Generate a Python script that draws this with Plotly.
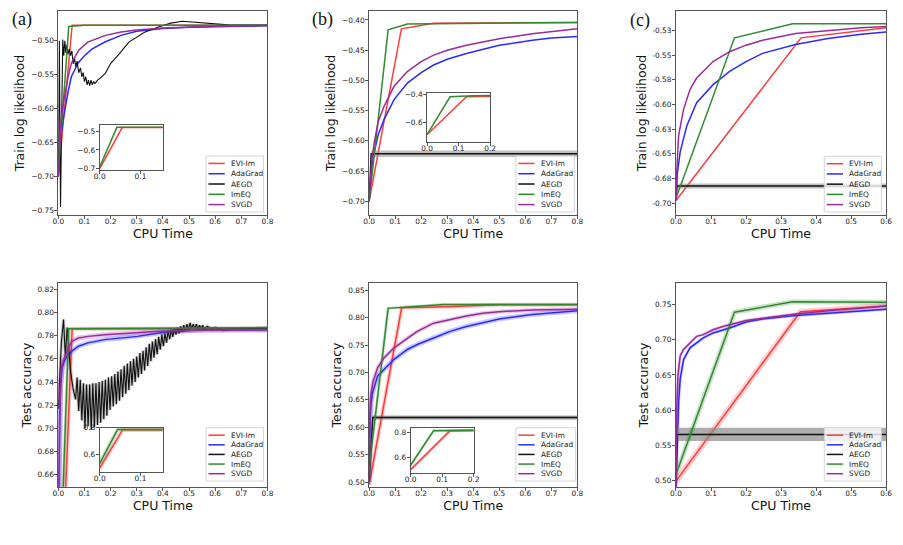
import plotly.graph_objects as go

W, H = 903, 545

names = ["EVI-Im", "AdaGrad", "AEGD", "ImEQ", "SVGD"]
colors = ["#ff3b3b", "#2a2aff", "#111111", "#2e8b2e", "#9a2a9a"]

# ---------------- (a) train log likelihood ----------------
ta_evi_x = [0.0, 0.053, 0.8]
ta_evi_y = [-0.700, -0.477, -0.477]
ta_ada_x = [0, 0.005, 0.01, 0.018, 0.026, 0.038, 0.05, 0.075, 0.1, 0.13, 0.18, 0.24, 0.3, 0.4, 0.5, 0.6, 0.8]
ta_ada_y = [-0.700, -0.665, -0.640, -0.618, -0.600, -0.574, -0.553, -0.533, -0.522, -0.512, -0.5015, -0.492, -0.486, -0.482, -0.480, -0.479, -0.478]
ta_aegd_x = [0, 0.004, 0.0085, 0.013, 0.017, 0.021, 0.025, 0.029, 0.033, 0.037, 0.042, 0.047, 0.052, 0.057, 0.062,
             0.067, 0.072, 0.078, 0.085, 0.09, 0.095, 0.1, 0.105, 0.11, 0.115, 0.12, 0.125, 0.13, 0.135, 0.14,
             0.15, 0.16, 0.18, 0.2, 0.234, 0.27, 0.33, 0.38, 0.43, 0.475, 0.52, 0.58, 0.65, 0.8]
ta_aegd_y = [-0.690, -0.500, -0.745, -0.560, -0.498, -0.522, -0.500, -0.518, -0.506, -0.520, -0.512, -0.522, -0.515,
             -0.534, -0.526, -0.538, -0.530, -0.547, -0.540, -0.553, -0.547, -0.560, -0.553, -0.565, -0.558, -0.566,
             -0.558, -0.565, -0.560, -0.563, -0.558, -0.555, -0.548, -0.5335, -0.519, -0.502, -0.4874, -0.480,
             -0.474, -0.4713, -0.4725, -0.475, -0.4765, -0.477]
ta_imeq_x = [0, 0.04, 0.1, 0.8]
ta_imeq_y = [-0.695, -0.479, -0.477, -0.477]
ta_svgd_x = [0, 0.005, 0.01, 0.018, 0.026, 0.038, 0.05, 0.078, 0.113, 0.18, 0.24, 0.3, 0.4, 0.5, 0.6, 0.8]
ta_svgd_y = [-0.700, -0.650, -0.620, -0.595, -0.577, -0.552, -0.533, -0.514, -0.502, -0.492, -0.487, -0.484, -0.481, -0.4795, -0.4785, -0.4775]
ta_in_evi_x = [0, 0.055, 0.155]
ta_in_evi_y = [-0.700, -0.479, -0.479]
ta_in_imeq_x = [0, 0.042, 0.155]
ta_in_imeq_y = [-0.692, -0.478, -0.478]

# ---------------- (b) train log likelihood ----------------
tb_evi_x = [0, 0.124, 0.248, 0.8]
tb_evi_y = [-0.700, -0.4147, -0.4054, -0.4040]
tb_ada_x = [0, 0.004, 0.01, 0.02, 0.035, 0.058, 0.096, 0.147, 0.2, 0.248, 0.3, 0.374, 0.45, 0.5, 0.627, 0.7, 0.8]
tb_ada_y = [-0.700, -0.672, -0.645, -0.618, -0.590, -0.564, -0.5316, -0.5043, -0.487, -0.4745, -0.465, -0.4554, -0.447, -0.4419, -0.4337, -0.430, -0.4272]
tb_aegd_x = [0, 0.008, 0.8]
tb_aegd_y = [-0.700, -0.6212, -0.6212]
tb_aegd_lo = [-0.700, -0.6267, -0.6267]
tb_aegd_hi = [-0.700, -0.6157, -0.6157]
tb_imeq_x = [0, 0.073, 0.147, 0.8]
tb_imeq_y = [-0.700, -0.4163, -0.4065, -0.4040]
tb_svgd_x = [0, 0.004, 0.01, 0.02, 0.035, 0.058, 0.096, 0.147, 0.2, 0.248, 0.3, 0.374, 0.45, 0.5, 0.627, 0.7, 0.8]
tb_svgd_y = [-0.700, -0.665, -0.632, -0.602, -0.568, -0.5423, -0.5097, -0.4853, -0.469, -0.4582, -0.450, -0.4419, -0.435, -0.431, -0.4228, -0.419, -0.4147]
tb_in_evi_x = [0, 0.125, 0.2]
tb_in_evi_y = [-0.690, -0.414, -0.412]
tb_in_imeq_x = [0, 0.073, 0.145, 0.2]
tb_in_imeq_y = [-0.690, -0.414, -0.406, -0.405]

# ---------------- (c) train log likelihood ----------------
tc_evi_x = [0, 0.357, 0.6]
tc_evi_y = [-0.6973, -0.5326, -0.5223]
tc_ada_x = [0, 0.004, 0.012, 0.031, 0.059, 0.106, 0.153, 0.2, 0.247, 0.341, 0.434, 0.529, 0.6]
tc_ada_y = [-0.697, -0.670, -0.648, -0.6216, -0.5983, -0.580, -0.5666, -0.5566, -0.5483, -0.5393, -0.5333, -0.529, -0.5267]
tc_aegd_x = [0, 0.003, 0.6]
tc_aegd_y = [-0.695, -0.6826, -0.6826]
tc_aegd_lo = [-0.695, -0.6851, -0.6851]
tc_aegd_hi = [-0.695, -0.6801, -0.6801]
tc_imeq_x = [0, 0.167, 0.333, 0.6]
tc_imeq_y = [-0.695, -0.5326, -0.5183, -0.5183]
tc_svgd_x = [0, 0.002, 0.0075, 0.0217, 0.040, 0.059, 0.106, 0.153, 0.2, 0.247, 0.341, 0.434, 0.529, 0.6]
tc_svgd_y = [-0.697, -0.670, -0.6316, -0.605, -0.585, -0.5733, -0.5566, -0.5466, -0.540, -0.535, -0.5283, -0.525, -0.5223, -0.521]
tc_yticks = [-0.7, -0.675, -0.65, -0.625, -0.6, -0.575, -0.55, -0.525]
tc_yticktext = ["-0.70", "-0.68", "-0.65", "-0.63", "-0.60", "-0.58", "-0.55", "-0.53"]

# ---------------- (a) test accuracy ----------------
ba_evi_x = [0, 0.053, 0.8]
ba_evi_y = [0.495, 0.786, 0.786]
ba_ada_x = [0, 0.002, 0.005, 0.009, 0.014, 0.02, 0.026, 0.039, 0.052, 0.077, 0.114, 0.177, 0.24, 0.303, 0.366, 0.429, 0.5, 0.555, 0.65, 0.8]
ba_ada_y = [0.60, 0.66, 0.705, 0.735, 0.751, 0.756, 0.7596, 0.764, 0.7667, 0.7709, 0.7738, 0.7766, 0.778, 0.7794, 0.7817, 0.7837, 0.7845, 0.7851, 0.7851, 0.7851]
ba_aegd_pts = [
    (0.000, 0.717), (0.006, 0.745), (0.012, 0.775), (0.020, 0.794), (0.027, 0.762), (0.034, 0.787),
    (0.046, 0.751), (0.056, 0.735), (0.066, 0.725), (0.072, 0.744), (0.078, 0.715), (0.084, 0.742),
    (0.090, 0.707), (0.096, 0.739), (0.102, 0.700), (0.108, 0.738), (0.114, 0.702), (0.120, 0.738),
    (0.126, 0.699), (0.132, 0.739), (0.138, 0.701), (0.144, 0.739), (0.150, 0.703), (0.156, 0.740),
    (0.162, 0.705), (0.168, 0.741), (0.174, 0.708), (0.180, 0.742), (0.186, 0.711), (0.192, 0.744),
    (0.198, 0.716), (0.204, 0.745), (0.210, 0.719), (0.216, 0.747), (0.222, 0.721), (0.228, 0.749),
    (0.234, 0.724), (0.240, 0.751), (0.246, 0.727), (0.252, 0.754), (0.258, 0.730), (0.264, 0.756),
    (0.270, 0.733), (0.276, 0.758), (0.282, 0.737), (0.288, 0.760), (0.294, 0.740), (0.300, 0.762),
    (0.306, 0.744), (0.312, 0.765), (0.318, 0.747), (0.324, 0.767), (0.330, 0.750), (0.336, 0.770),
    (0.342, 0.754), (0.348, 0.773), (0.354, 0.758), (0.360, 0.775), (0.366, 0.761), (0.372, 0.777),
    (0.378, 0.764), (0.384, 0.779), (0.390, 0.768), (0.396, 0.781), (0.402, 0.771), (0.408, 0.782),
    (0.414, 0.774), (0.420, 0.784), (0.426, 0.777), (0.432, 0.785), (0.438, 0.779), (0.444, 0.786),
    (0.450, 0.781), (0.456, 0.787), (0.462, 0.782), (0.468, 0.788), (0.474, 0.783), (0.480, 0.789),
    (0.486, 0.784), (0.492, 0.790), (0.498, 0.785), (0.504, 0.791), (0.510, 0.786), (0.516, 0.790),
    (0.522, 0.786), (0.528, 0.790), (0.534, 0.786), (0.540, 0.789), (0.546, 0.786), (0.552, 0.789),
    (0.558, 0.786), (0.570, 0.788), (0.585, 0.786), (0.600, 0.787), (0.630, 0.785), (0.660, 0.786),
    (0.700, 0.786), (0.800, 0.7865)]
ba_imeq_x = [0, 0.04, 0.8]
ba_imeq_y = [0.53, 0.786, 0.787]
ba_svgd_x = [0, 0.002, 0.005, 0.009, 0.014, 0.02, 0.026, 0.039, 0.052, 0.077, 0.114, 0.177, 0.24, 0.303, 0.366, 0.43, 0.5, 0.6, 0.8]
ba_svgd_y = [0.60, 0.67, 0.71, 0.74, 0.7539, 0.759, 0.7624, 0.7695, 0.7752, 0.778, 0.7794, 0.7809, 0.7817, 0.7828, 0.7837, 0.784, 0.7845, 0.785, 0.7851]
ba_in_evi_x = [0, 0.0565, 0.155]
ba_in_evi_y = [0.495, 0.786, 0.786]
ba_in_imeq_x = [0, 0.044, 0.155]
ba_in_imeq_y = [0.53, 0.787, 0.787]

# ---------------- (b) test accuracy ----------------
bb_evi_x = [0, 0.125, 0.3, 0.5, 0.8]
bb_evi_y = [0.495, 0.818, 0.820, 0.8235, 0.8235]
bb_ada_x = [0, 0.004, 0.008, 0.014, 0.033, 0.058, 0.096, 0.147, 0.185, 0.248, 0.311, 0.374, 0.437, 0.5, 0.627, 0.8]
bb_ada_y = [0.50, 0.62, 0.645, 0.664, 0.6938, 0.706, 0.724, 0.742, 0.751, 0.763, 0.775, 0.784, 0.791, 0.7977, 0.806, 0.8127]
bb_aegd_x = [0, 0.014, 0.8]
bb_aegd_y = [0.50, 0.6176, 0.6176]
bb_aegd_lo = [0.50, 0.6136, 0.6136]
bb_aegd_hi = [0.50, 0.6216, 0.6216]
bb_imeq_x = [0, 0.073, 0.286, 0.8]
bb_imeq_y = [0.525, 0.817, 0.824, 0.824]
bb_svgd_x = [0, 0.003, 0.007, 0.014, 0.033, 0.058, 0.096, 0.147, 0.185, 0.248, 0.311, 0.374, 0.437, 0.5, 0.627, 0.8]
bb_svgd_y = [0.50, 0.63, 0.66, 0.682, 0.709, 0.727, 0.745, 0.763, 0.775, 0.790, 0.797, 0.803, 0.808, 0.811, 0.814, 0.8153]
bb_in_evi_x = [0, 0.125, 0.2]
bb_in_evi_y = [0.50, 0.816, 0.818]
bb_in_imeq_x = [0, 0.073, 0.2]
bb_in_imeq_y = [0.535, 0.816, 0.820]

# ---------------- (c) test accuracy ----------------
bc_evi_x = [0, 0.355, 0.6]
bc_evi_y = [0.4986, 0.740, 0.7483]
bc_ada_x = [0, 0.004, 0.0075, 0.012, 0.0217, 0.040, 0.059, 0.078, 0.106, 0.153, 0.2, 0.247, 0.341, 0.435, 0.529, 0.6]
bc_ada_y = [0.49, 0.56, 0.611, 0.644, 0.672, 0.6887, 0.6958, 0.7028, 0.7099, 0.7169, 0.7254, 0.7296, 0.7347, 0.738, 0.7408, 0.7437]
bc_aegd_x = [0, 0.003, 0.6]
bc_aegd_y = [0.50, 0.5652, 0.5652]
bc_aegd_lo = [0.50, 0.5558, 0.5558]
bc_aegd_hi = [0.50, 0.5746, 0.5746]
bc_imeq_x = [0, 0.167, 0.333, 0.6]
bc_imeq_y = [0.508, 0.7394, 0.7544, 0.7535]
bc_svgd_x = [0, 0.002, 0.0056, 0.012, 0.0217, 0.040, 0.059, 0.078, 0.106, 0.134, 0.2, 0.247, 0.341, 0.435, 0.529, 0.6]
bc_svgd_y = [0.49, 0.60, 0.6487, 0.677, 0.6863, 0.6958, 0.7051, 0.7075, 0.7145, 0.7192, 0.7276, 0.731, 0.737, 0.7417, 0.7459, 0.7483]

# ======================================================================
fig = go.Figure()
FONT = "DejaVu Sans"
LW = 1.5


def fx(p):
    return p / W


def fy(p):
    return 1 - p / H


def line(x, y, ax, ci, width=LW, opacity=1.0, under=None):
    xa, ya = ax
    if under is not None:
        fig.add_trace(go.Scatter(x=x, y=y, mode="lines", xaxis=xa, yaxis=ya, showlegend=False,
                                 hoverinfo="skip", opacity=0.25,
                                 line=dict(color=colors[ci], width=under)))
    fig.add_trace(go.Scatter(x=x, y=y, mode="lines", xaxis=xa, yaxis=ya, showlegend=False,
                             hoverinfo="skip", opacity=opacity,
                             line=dict(color=colors[ci], width=width)))


def band(x, lo, hi, ax, color):
    xa, ya = ax
    fig.add_trace(go.Scatter(x=list(x) + list(x)[::-1], y=list(hi) + list(lo)[::-1], mode="lines",
                             fill="toself", fillcolor=color, line=dict(width=0), xaxis=xa, yaxis=ya,
                             showlegend=False, hoverinfo="skip"))


A1 = ("x", "y"); A2 = ("x2", "y2"); A3 = ("x3", "y3")
A4 = ("x4", "y4"); A5 = ("x5", "y5"); A6 = ("x6", "y6")
I7 = ("x7", "y7"); I8 = ("x8", "y8"); I9 = ("x9", "y9"); I10 = ("x10", "y10")

# (a) train
line(ta_evi_x, ta_evi_y, A1, 0)
line(ta_ada_x, ta_ada_y, A1, 1)
line(ta_aegd_x, ta_aegd_y, A1, 2, width=1.1)
line(ta_imeq_x, ta_imeq_y, A1, 3)
line(ta_svgd_x, ta_svgd_y, A1, 4)
# (b) train
line(tb_evi_x, tb_evi_y, A2, 0)
line(tb_ada_x, tb_ada_y, A2, 1)
band(tb_aegd_x, tb_aegd_lo, tb_aegd_hi, A2, "rgba(150,150,150,0.6)")
line(tb_aegd_x, tb_aegd_y, A2, 2)
line(tb_imeq_x, tb_imeq_y, A2, 3)
line(tb_svgd_x, tb_svgd_y, A2, 4)
# (c) train
line(tc_evi_x, tc_evi_y, A3, 0)
line(tc_ada_x, tc_ada_y, A3, 1)
band(tc_aegd_x, tc_aegd_lo, tc_aegd_hi, A3, "rgba(150,150,150,0.6)")
line(tc_aegd_x, tc_aegd_y, A3, 2)
line(tc_imeq_x, tc_imeq_y, A3, 3)
line(tc_svgd_x, tc_svgd_y, A3, 4)
# (a) test
ba_aegd_x = [p[0] for p in ba_aegd_pts]
ba_aegd_y = [p[1] for p in ba_aegd_pts]
line(ba_evi_x, ba_evi_y, A4, 0, under=4)
line(ba_ada_x, ba_ada_y, A4, 1, under=5)
line(ba_aegd_x, ba_aegd_y, A4, 2, width=1.1, under=3)
line(ba_imeq_x, ba_imeq_y, A4, 3, under=3)
line(ba_svgd_x, ba_svgd_y, A4, 4, under=5)
# (b) test
line(bb_evi_x, bb_evi_y, A5, 0, under=4)
line(bb_ada_x, bb_ada_y, A5, 1, under=5)
band(bb_aegd_x, bb_aegd_lo, bb_aegd_hi, A5, "rgba(130,130,130,0.65)")
line(bb_aegd_x, bb_aegd_y, A5, 2)
line(bb_imeq_x, bb_imeq_y, A5, 3, under=3)
line(bb_svgd_x, bb_svgd_y, A5, 4, under=4)
# (c) test
line(bc_evi_x, bc_evi_y, A6, 0, under=6)
line(bc_ada_x, bc_ada_y, A6, 1, under=3)
band(bc_aegd_x, bc_aegd_lo, bc_aegd_hi, A6, "rgba(140,140,140,0.7)")
line(bc_aegd_x, bc_aegd_y, A6, 2)
line(bc_imeq_x, bc_imeq_y, A6, 3, under=5)
line(bc_svgd_x, bc_svgd_y, A6, 4, under=3)
# insets
line(ta_in_evi_x, ta_in_evi_y, I7, 0)
line(ta_in_imeq_x, ta_in_imeq_y, I7, 3)
line(tb_in_evi_x, tb_in_evi_y, I8, 0)
line(tb_in_imeq_x, tb_in_imeq_y, I8, 3)
line(ba_in_evi_x, ba_in_evi_y, I9, 0, under=4)
line(ba_in_imeq_x, ba_in_imeq_y, I9, 3, under=4)
line(bb_in_evi_x, bb_in_evi_y, I10, 0, under=3)
line(bb_in_imeq_x, bb_in_imeq_y, I10, 3, under=3)

SPINE = "#555555"


def axis(domain, rng, anchor, dtick=None, tickvals=None, ticktext=None, fmt=None, title=None, standoff=None,
         xa=False):
    d = dict(domain=domain, range=rng, anchor=anchor, showline=True, linecolor=SPINE, linewidth=0.9,
             mirror=True, ticks="outside", ticklen=3, tickwidth=0.8, tickcolor=SPINE,
             tickfont=dict(size=7.4, color="#222", family=FONT), showgrid=False, zeroline=False,
             fixedrange=True)
    if xa:
        d.update(ticklabelstandoff=-4)
    else:
        d.update(ticklabelstandoff=-1)
    if dtick is not None:
        d.update(tickmode="linear", tick0=0, dtick=dtick)
    if tickvals is not None:
        d.update(tickmode="array", tickvals=tickvals)
    if ticktext is not None:
        d.update(ticktext=ticktext)
    if fmt is not None:
        d.update(tickformat=fmt)
    if title is not None:
        d.update(title=dict(text=title, font=dict(size=12.5, family=FONT, color="#111"), standoff=standoff))
    return d


cols = [(53, 265), (368, 579), (679, 892)]
rows = [(7, 214), (283, 489)]


def dom_x(c):
    return [fx(c[0]), fx(c[1])]


def dom_y(r):
    return [fy(r[1]), fy(r[0])]


XS = 2
YS = 3
lay = {}
# main axes
lay["xaxis"] = axis(dom_x(cols[0]), [0, 0.8], "y", dtick=0.1, fmt=".1f", title="CPU Time", standoff=XS, xa=True)
lay["yaxis"] = axis(dom_y(rows[0]), [-0.757, -0.456], "x", tickvals=[-0.75, -0.7, -0.65, -0.6, -0.55, -0.5], fmt=".2f",
                    title="Train log likelihood", standoff=YS)
lay["xaxis2"] = axis(dom_x(cols[1]), [0, 0.8], "y2", dtick=0.1, fmt=".1f", title="CPU Time", standoff=XS, xa=True)
lay["yaxis2"] = axis(dom_y(rows[0]), [-0.723, -0.385], "x2", tickvals=[-0.7, -0.65, -0.6, -0.55, -0.5, -0.45, -0.4], fmt=".2f",
                     title="Train log likelihood", standoff=YS)
lay["xaxis3"] = axis(dom_x(cols[2]), [0, 0.6], "y3", dtick=0.1, fmt=".1f", title="CPU Time", standoff=XS, xa=True)
lay["yaxis3"] = axis(dom_y(rows[0]), [-0.7123, -0.5053], "x3", tickvals=tc_yticks, ticktext=tc_yticktext,
                     title="Train log likelihood", standoff=YS)
lay["xaxis4"] = axis(dom_x(cols[0]), [0, 0.8], "y4", dtick=0.1, fmt=".1f", title="CPU Time", standoff=XS, xa=True)
lay["yaxis4"] = axis(dom_y(rows[1]), [0.6498, 0.8251], "x4", dtick=0.02, fmt=".2f", title="Test accuracy", standoff=YS)
lay["xaxis5"] = axis(dom_x(cols[1]), [0, 0.8], "y5", dtick=0.1, fmt=".1f", title="CPU Time", standoff=XS, xa=True)
lay["yaxis5"] = axis(dom_y(rows[1]), [0.4915, 0.8626], "x5", dtick=0.05, fmt=".2f", title="Test accuracy", standoff=YS)
lay["xaxis6"] = axis(dom_x(cols[2]), [0, 0.6], "y6", dtick=0.1, fmt=".1f", title="CPU Time", standoff=XS, xa=True)
lay["yaxis6"] = axis(dom_y(rows[1]), [0.4906, 0.7806], "x6", dtick=0.05, fmt=".2f", title="Test accuracy", standoff=YS)
# insets
lay["xaxis7"] = axis([fx(95), fx(159)], [0, 0.155], "y7", tickvals=[0, 0.1], fmt=".1f", xa=True)
lay["yaxis7"] = axis([fy(168), fy(122.7)], [-0.707, -0.466], "x7", tickvals=[-0.7, -0.6, -0.5], fmt=".1f")
lay["xaxis8"] = axis([fx(426.7), fx(490.7)], [0, 0.2], "y8", tickvals=[0, 0.1, 0.2], fmt=".1f", xa=True)
lay["yaxis8"] = axis([fy(140), fy(90)], [-0.745, -0.385], "x8", tickvals=[-0.6, -0.4], fmt=".1f")
lay["xaxis9"] = axis([fx(95), fx(159)], [0, 0.155], "y9", tickvals=[0, 0.1], fmt=".1f", xa=True)
lay["yaxis9"] = axis([fy(474.3), fy(429.3)], [0.463, 0.8], "x9", tickvals=[0.6, 0.8], fmt=".1f")
lay["xaxis10"] = axis([fx(410), fx(474)], [0, 0.2], "y10", tickvals=[0, 0.1, 0.2], fmt=".1f", xa=True)
lay["yaxis10"] = axis([fy(475), fy(430)], [0.474, 0.834], "x10", tickvals=[0.6, 0.8], fmt=".1f")

shapes = []
annotations = []

# legends (drawn as boxes with line samples and labels)
legend_boxes = [(202.7, 154, 261, 210.7), (516.7, 154, 576, 210.7), (829.3, 154.3, 887.3, 210.7),
                (202.7, 429.3, 261, 483.3), (516.7, 429.3, 577.3, 483.3), (829.3, 429.3, 887.3, 483.3)]
for (x0, y0, x1, y1) in legend_boxes:
    shapes.append(dict(type="rect", xref="paper", yref="paper", x0=fx(x0), x1=fx(x1), y0=fy(y1), y1=fy(y0),
                       fillcolor="rgba(255,255,255,0.8)", line=dict(color="#cccccc", width=0.8), layer="above"))
    step = (y1 - y0 - 15) / 4
    for i, nm in enumerate(names):
        yc = y0 + 7.5 + i * step
        shapes.append(dict(type="line", xref="paper", yref="paper", x0=fx(x0 + 2.5), x1=fx(x0 + 19),
                           y0=fy(yc), y1=fy(yc), line=dict(color=colors[i], width=LW), layer="above"))
        annotations.append(dict(text=nm, xref="paper", yref="paper", x=fx(x0 + 23.5), y=fy(yc),
                                xanchor="left", yanchor="middle", showarrow=False,
                                font=dict(size=7.4, family=FONT, color="#222")))

for lab, (px, py) in zip(["(a)", "(b)", "(c)"], [(16.5, 15.5), (321, 15.5), (642.5, 17)]):
    annotations.append(dict(text=lab, xref="paper", yref="paper", x=fx(px), y=fy(py), xanchor="center",
                            yanchor="middle", showarrow=False,
                            font=dict(size=18, family="Liberation Serif", color="#111")))

fig.update_layout(width=W, height=H, margin=dict(l=0, r=0, t=0, b=0), paper_bgcolor="white",
                  plot_bgcolor="white", showlegend=False, shapes=shapes, annotations=annotations, **lay)

fig.write_html("out.html")
